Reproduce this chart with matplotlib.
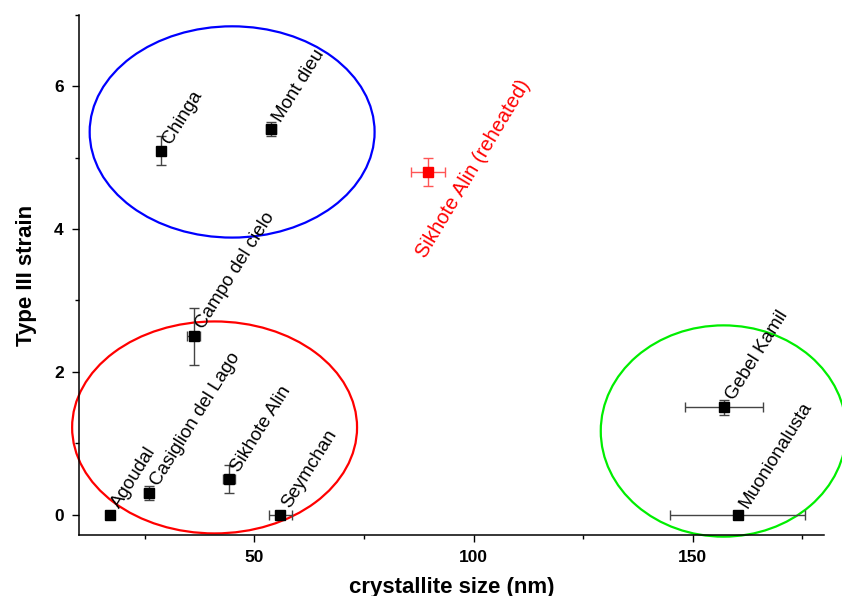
import matplotlib
matplotlib.use('Agg')
import matplotlib.pyplot as plt
from matplotlib.patches import Ellipse
from matplotlib.ticker import MultipleLocator

plt.rcParams['font.family'] = ['Liberation Sans', 'DejaVu Sans']

# meteorite data: crystallite size (nm) vs type III strain
names = ['Agoudal', 'Casiglion del Lago', 'Campo del cielo', 'Chinga', 'Mont dieu',
         'Sikhote Alin', 'Seymchan', 'Gebel Kamil', 'Muonionalusta']
size = [17.1, 25.9, 36.1, 28.6, 53.8, 44.2, 55.9, 157.2, 160.2]
size_err = [0.5, 1.0, 1.5, 0.5, 1.2, 1.4, 2.6, 8.9, 15.4]
strain = [0.0, 0.3, 2.5, 5.1, 5.4, 0.5, 0.0, 1.5, 0.0]
strain_err = [0.0, 0.1, 0.4, 0.2, 0.1, 0.2, 0.0, 0.1, 0.0]

# reheated sample
reheat_name = 'Sikhote Alin (reheated)'
reheat_size, reheat_size_err = 89.6, 3.9
reheat_strain, reheat_strain_err = 4.8, 0.2

# groups circled on the plot: (centre x, centre y, width, height, colour)
groups = [(44.9, 5.36, 65, 2.96, 'blue'),
          (40.9, 1.22, 65, 2.97, 'red'),
          (157.0, 1.17, 56, 2.96, '#00ee00')]

fig = plt.figure(figsize=(8.42, 5.96), dpi=100)
ax = fig.add_axes([0.094, 0.102, 0.885, 0.873])

ax.errorbar(size, strain, xerr=size_err, yerr=strain_err, fmt='s', color='black',
            ms=7, ecolor='#444444', elinewidth=1, capsize=3.5, capthick=1, zorder=3)
ax.errorbar([reheat_size], [reheat_strain], xerr=[reheat_size_err], yerr=[reheat_strain_err],
            fmt='s', color='red', ms=7, ecolor='#ff5555', elinewidth=1, capsize=3.5,
            capthick=1, zorder=3)

for n, x, y in zip(names, size, strain):
    ax.annotate(n, (x, y), xytext=(7, 4.3), textcoords='offset points', fontsize=13.5,
                rotation=58, rotation_mode='anchor', ha='left', va='baseline')

ax.annotate(reheat_name, (reheat_size, reheat_strain), xytext=(-2, -63),
            textcoords='offset points', fontsize=14.5, color='red',
            rotation=59, rotation_mode='anchor', ha='left', va='baseline')

for cx, cy, w, h, c in groups:
    ax.add_patch(Ellipse((cx, cy), w, h, fill=False, edgecolor=c, lw=1.6,
                         clip_on=False, zorder=2))

ax.set_xlim(10, 180)
ax.set_ylim(-0.29, 7)
ax.xaxis.set_major_locator(MultipleLocator(50))
ax.xaxis.set_minor_locator(MultipleLocator(25))
ax.yaxis.set_major_locator(MultipleLocator(2))
ax.yaxis.set_minor_locator(MultipleLocator(1))

for s in ['top', 'right']:
    ax.spines[s].set_visible(False)
for s in ['left', 'bottom']:
    ax.spines[s].set_linewidth(1.1)

ax.tick_params(which='major', direction='out', length=5, width=1, labelsize=12.5, pad=6)
ax.tick_params(which='minor', direction='out', length=3, width=1)
for lab in ax.get_xticklabels() + ax.get_yticklabels():
    lab.set_fontweight('bold')

ax.set_xlabel('crystallite size (nm)', fontsize=16, fontweight='bold', labelpad=8)
ax.set_ylabel('Type III strain', fontsize=16, fontweight='bold', labelpad=12)

plt.savefig('out.png', dpi=100)
plt.close()
